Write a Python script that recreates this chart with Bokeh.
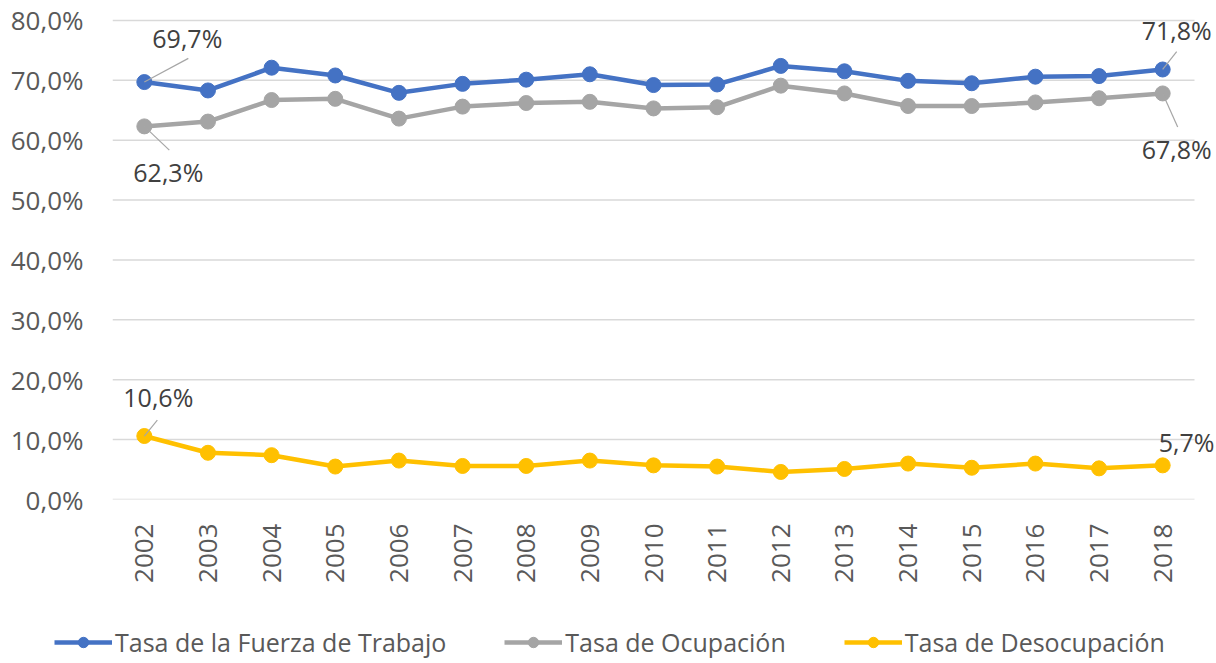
import math
from bokeh.plotting import figure
from bokeh.layouts import column
from bokeh.models import (Range1d, FixedTicker, CustomJSTickFormatter, Legend,
                          LegendItem, Label, ColumnDataSource)
from bokeh.embed import file_html
from bokeh.resources import INLINE

# ---------------- data ----------------
years = ["2002", "2003", "2004", "2005", "2006", "2007", "2008", "2009", "2010",
         "2011", "2012", "2013", "2014", "2015", "2016", "2017", "2018"]
fuerza = [69.7, 68.3, 72.1, 70.8, 67.9, 69.4, 70.1, 71.0, 69.2,
          69.3, 72.4, 71.5, 69.9, 69.5, 70.6, 70.7, 71.8]
ocupacion = [62.3, 63.1, 66.7, 66.9, 63.6, 65.6, 66.2, 66.4, 65.3,
             65.5, 69.1, 67.8, 65.7, 65.7, 66.3, 67.0, 67.8]
desocupacion = [10.6, 7.8, 7.4, 5.5, 6.5, 5.6, 5.6, 6.5, 5.7,
                5.5, 4.6, 5.1, 6.0, 5.3, 6.0, 5.2, 5.7]
y_ticks = [0, 10, 20, 30, 40, 50, 60, 70, 80]
series_names = ["Tasa de la Fuerza de Trabajo", "Tasa de Ocupación", "Tasa de Desocupación"]
colors = ["#4472C4", "#A5A5A5", "#FFC000"]

FONT = "Open Sans"
x = list(range(len(years)))
n = len(years)

# frame geometry (pixels)
FRAME_W = 1104
FRAME_H = 495
X_END = n - 0.5 + 22 / 63.65          # room on the right for the end labels
Y_END = 80 + 10 / 6.0625              # room above 80% for the top label
PX_X = FRAME_W / (X_END + 0.5)
PX_Y = FRAME_H / Y_END

p = figure(width=1216, height=585, output_backend="svg", toolbar_location=None,
           x_range=Range1d(-0.5, X_END), y_range=Range1d(0, Y_END),
           min_border_left=112, min_border_right=0, min_border_top=10,
           min_border_bottom=80)
p.outline_line_color = None
p.background_fill_color = "white"
p.border_fill_color = "white"

# axes
p.xaxis.ticker = FixedTicker(ticks=x)
p.xaxis.major_label_overrides = {i: y for i, y in enumerate(years)}
p.xaxis.major_label_orientation = math.pi / 2
p.xaxis.major_label_text_font = FONT
p.xaxis.major_label_text_font_size = "26px"
p.xaxis.major_label_text_color = "#595959"
p.xaxis.major_label_standoff = 18
p.xaxis.axis_line_color = None
p.xaxis.major_tick_line_color = None
p.xaxis.minor_tick_line_color = None
p.xgrid.grid_line_color = None

p.yaxis.ticker = FixedTicker(ticks=y_ticks)
p.yaxis.formatter = CustomJSTickFormatter(code="return tick.toFixed(1).replace('.', ',') + '%';")
p.yaxis.major_label_text_font = FONT
p.yaxis.major_label_text_font_size = "26px"
p.yaxis.major_label_text_color = "#595959"
p.yaxis.major_label_standoff = 23
p.yaxis.axis_line_color = None
p.yaxis.major_tick_line_color = None
p.yaxis.minor_tick_line_color = None
p.ygrid.grid_line_color = None

# gridlines limited to the category area
p.segment(x0=[-0.5] * len(y_ticks), x1=[n - 0.5] * len(y_ticks), y0=y_ticks, y1=y_ticks,
          line_color="#D9D9D9", line_width=1.5, level="underlay")

items = []
for name, vals, col in zip(series_names, [fuerza, ocupacion, desocupacion], colors):
    src = ColumnDataSource(dict(x=x, y=vals))
    ln = p.line("x", "y", source=src, line_color=col, line_width=4.5)
    sc = p.scatter("x", "y", source=src, size=15, fill_color=col, line_color=col)
    items.append((name, col))

# data labels: (series values, index, label dx, label dy, leader dx, leader dy) in pixels
label_specs = [
    (fuerza, 0, 43, 45, 44, 24),
    (ocupacion, 0, 24, -46, 25, -24),
    (desocupacion, 0, 14, 39, 13, 16),
    (fuerza, -1, 14, 40, 14, 18),
    (ocupacion, -1, 14, -56, 15, -34),
    (desocupacion, -1, 24, 24, None, None),
]
x0s, y0s, x1s, y1s = [], [], [], []
for vals, idx, ldx, ldy, sdx, sdy in label_specs:
    i = x[idx]
    v = vals[idx]
    txt = ("%.1f" % v).replace(".", ",") + "%"
    p.add_layout(Label(x=i + ldx / PX_X, y=v + ldy / PX_Y, text=txt,
                       text_font=FONT, text_font_size="25px", text_color="#404040",
                       text_align="center", text_baseline="middle"))
    if sdx is not None:
        x0s.append(i)
        y0s.append(v)
        x1s.append(i + sdx / PX_X)
        y1s.append(v + sdy / PX_Y)
p.segment(x0=x0s, y0=y0s, x1=x1s, y1=y1s, line_color="#A6A6A6", line_width=1.2)

# legend in its own strip below the chart
lg = figure(width=1216, height=75, output_backend="svg", toolbar_location=None,
            x_range=Range1d(0, 1), y_range=Range1d(0, 1),
            x_axis_type=None, y_axis_type=None,
            min_border=0, min_border_left=0, min_border_right=0)
lg.outline_line_color = None
lg.grid.visible = False
if "frame_align" in lg.properties():
    lg.frame_align = False
    p.frame_align = False
    LEG_X = 54
else:
    LEG_X = -58
leg_items = []
for name, col in items:
    l2 = lg.line(x=[-5, -4], y=[-5, -4], line_color=col, line_width=4.5)
    s2 = lg.scatter(x=[-5], y=[-5], size=15, fill_color=col, line_color=col)
    leg_items.append(LegendItem(label=name, renderers=[l2, s2]))
legend = Legend(items=leg_items, orientation="horizontal", location=(LEG_X, 1),
                label_text_font=FONT, label_text_font_size="25px",
                label_text_color="#595959", glyph_width=58, glyph_height=26,
                label_height=26, label_standoff=3, spacing=58, padding=0,
                margin=0, border_line_color=None, background_fill_alpha=0)
lg.add_layout(legend, "center")

layout = column(p, lg, spacing=0)
open("out.html", "w").write(file_html(layout, INLINE))
